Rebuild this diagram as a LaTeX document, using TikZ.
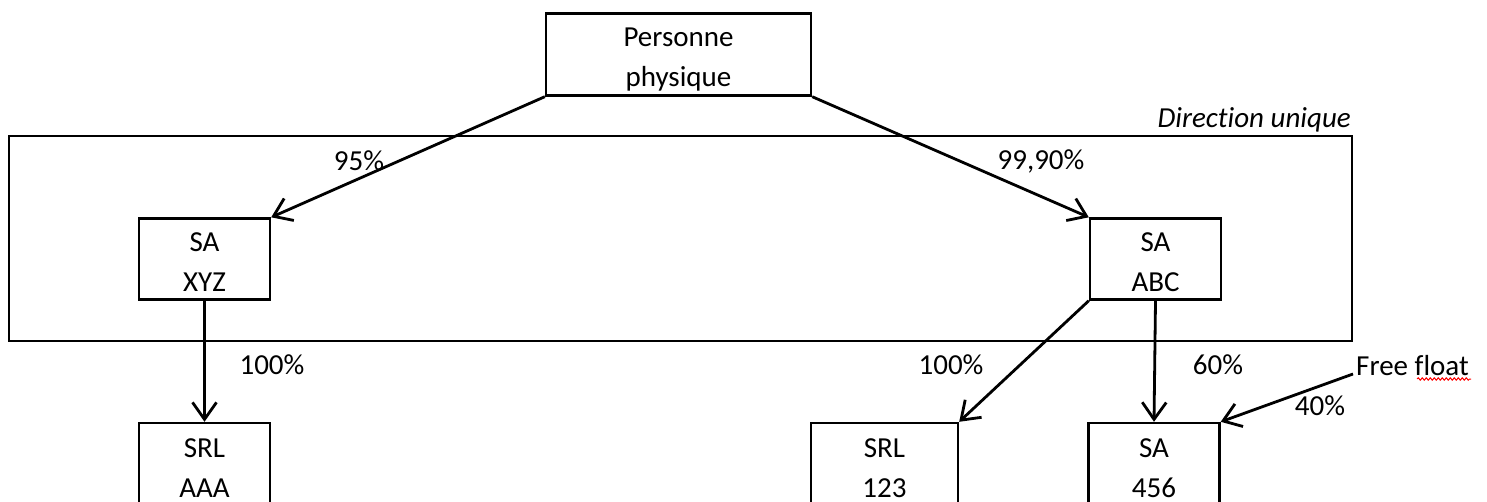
\documentclass[tikz,border=0pt]{standalone}
\usepackage{fontspec}
\setmainfont{Carlito}[Ligatures=NoCommon]
\usetikzlibrary{arrows.meta,decorations.pathmorphing}
\begin{document}
\begin{tikzpicture}[x=1pt,y=-1pt,
  every node/.style={font=\fontsize{29}{40}\selectfont},
  entity/.style={draw,line width=2.4pt,inner sep=0pt,align=center,minimum width=131pt,minimum height=81pt},
  lowentity/.style={entity,minimum height=90pt},
  link/.style={line width=2.8pt,-{Straight Barb[length=17pt,width=24pt]}},
  pct/.style={inner sep=0pt}]
\useasboundingbox (0,0) rectangle (1487,502);
\clip (0,0) rectangle (1487,502);
% group frame
\draw[line width=2.4pt] (9,136) rectangle (1352,341);
\node[pct,anchor=east,font=\fontsize{29}{40}\selectfont\itshape] (du) at (1351,120) {Direction unique};
% entities
\node[entity,minimum width=265pt,minimum height=82pt] (pp) at (678.5,54.5) {\rule{0pt}{29pt}Personne\\physique};
\node[entity] (xyz) at (204.5,259) {\rule{0pt}{25pt}SA\\XYZ};
\node[entity] (abc) at (1155.5,259) {\rule{0pt}{25pt}SA\\ABC};
\node[lowentity] (aaa) at (204.5,468) {SRL\\AAA};
\node[lowentity,minimum width=147pt] (s123) at (884.5,468) {SRL\\123};
\node[lowentity] (s456) at (1154,468) {SA\\456};
\node[pct,anchor=west] (ff) at (1356,366) {Free float};
\draw[red,line width=1pt,decorate,decoration={snake,amplitude=1.2pt,segment length=4pt}] (1417,379) -- (1471,379);
\coordinate (ffs) at (1353,374);
% links
\draw[link] (pp.south west) -- (xyz.north east);
\draw[link] (pp.south east) -- (abc.north west);
\draw[link] (xyz.south) -- (aaa.north);
\draw[link] (abc.south west) -- (s123.north east);
\draw[link] (abc.south) -- (s456.north);
\draw[link] (ffs) -- (s456.north east);
% labels
\node[pct] (l95) at (359,161) {95\%};
\node[pct] (l999) at (1041,161) {99,90\%};
\node[pct] (l100a) at (272,365) {100\%};
\node[pct] (l100b) at (951,365) {100\%};
\node[pct] (l60) at (1218,365) {60\%};
\node[pct] (l40) at (1320,406) {40\%};
\end{tikzpicture}
\end{document}
